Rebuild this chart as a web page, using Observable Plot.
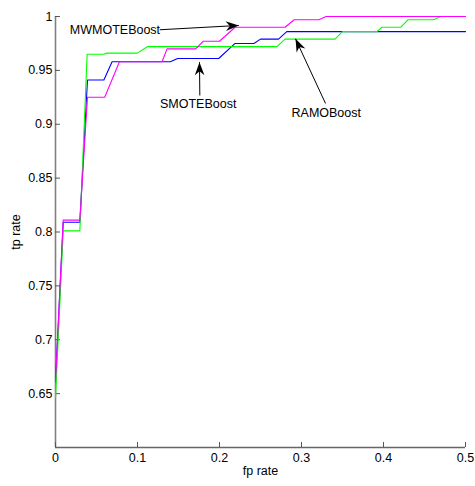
<!DOCTYPE html>
<html><head><meta charset="utf-8">
<script src="https://cdn.jsdelivr.net/npm/d3@7"></script>
<script src="https://cdn.jsdelivr.net/npm/@observablehq/plot@0.6"></script>
<style>body{margin:0;background:#fff}</style>
</head><body><div id="chart"></div>
<script>
// SMOTEBoost (blue)
const smoteFpr = [0, 0.0094, 0.0297, 0.039, 0.059, 0.069, 0.140, 0.149, 0.199, 0.219, 0.242, 0.250, 0.272, 0.282, 0.5];
const smoteTpr = [0.661, 0.809, 0.809, 0.941, 0.941, 0.958, 0.958, 0.961, 0.961, 0.975, 0.975, 0.979, 0.979, 0.986, 0.986];
// RAMOBoost (green)
const ramoFpr = [0, 0.0094, 0.0297, 0.0386, 0.059, 0.0625, 0.0996, 0.112, 0.270, 0.280, 0.341, 0.350, 0.392, 0.398, 0.421, 0.430, 0.461, 0.470, 0.5];
const ramoTpr = [0.646, 0.801, 0.801, 0.965, 0.965, 0.966, 0.966, 0.972, 0.972, 0.979, 0.979, 0.986, 0.986, 0.990, 0.990, 0.997, 0.997, 1.0, 1.0];
// MWMOTEBoost (magenta)
const mwFpr = [0, 0.0094, 0.0297, 0.039, 0.060, 0.078, 0.130, 0.136, 0.171, 0.180, 0.200, 0.219, 0.280, 0.291, 0.321, 0.330, 0.5];
const mwTpr = [0.661, 0.811, 0.811, 0.925, 0.925, 0.958, 0.958, 0.970, 0.970, 0.977, 0.977, 0.990, 0.990, 0.997, 0.997, 1.0, 1.0];

const seriesNames = ["SMOTEBoost", "RAMOBoost", "MWMOTEBoost"];
const seriesColors = ["#0000ff", "#00ff00", "#ff00ff"];

const xTicks = [0, 0.1, 0.2, 0.3, 0.4, 0.5];
const yTicks = [0.65, 0.7, 0.75, 0.8, 0.85, 0.9, 0.95, 1];

// annotations (text centre, arrow tail, arrow tip)
const annLabels = ["MWMOTEBoost", "SMOTEBoost", "RAMOBoost"];
const annTextX = [0.0725, 0.174, 0.3302];
const annTextY = [0.9878, 0.9186, 0.910];
const annFromX = [0.1272, 0.176, 0.3293];
const annFromY = [0.9877, 0.9267, 0.9193];
const annToX = [0.2235, 0.1756, 0.2927];
const annToY = [0.9917, 0.9576, 0.9793];

const seriesData = [
  [smoteFpr, smoteTpr], [ramoFpr, ramoTpr], [mwFpr, mwTpr]
].map(([xs, ys], k) => xs.map((x, i) => ({x, y: ys[i], s: seriesNames[k]})));

const ann = annLabels.map((label, i) => ({
  label, tx: annTextX[i], ty: annTextY[i],
  x1: annFromX[i], y1: annFromY[i], x2: annToX[i], y2: annToY[i]
}));

const headSymbol = {
  draw(ctx) {
    ctx.moveTo(0, 0);
    ctx.lineTo(-13, -4.8);
    ctx.lineTo(-9, 0);
    ctx.lineTo(-13, 4.8);
    ctx.closePath();
  }
};

const font = "'Liberation Sans', Arial, sans-serif";

function build(angles) {
  return Plot.plot({
    width: 475,
    height: 486,
    marginLeft: 55,
    marginRight: 10,
    marginTop: 16,
    marginBottom: 39,
    style: {fontFamily: font, fontSize: "12px", background: "white", color: "black", overflow: "visible"},
    x: {domain: [0, 0.5]},
    y: {domain: [0.6, 1]},
    marks: [
      Plot.ruleX([0], {stroke: "#808080", strokeWidth: 1.6}),
      Plot.ruleY([0.6], {stroke: "#666", strokeWidth: 1.6}),
      Plot.axisX(xTicks, {tickSize: -5, tickFormat: () => "", stroke: "#555"}),
      Plot.axisY(yTicks, {tickSize: -5, tickFormat: () => "", stroke: "#555"}),
      Plot.axisX(xTicks, {tickSize: 0, tickPadding: 6, tickFormat: d => String(d), fontSize: 12.5,
        label: "fp rate", labelAnchor: "center", labelArrow: "none", labelOffset: 27}),
      Plot.axisY(yTicks, {tickSize: 0, tickPadding: 3, tickFormat: d => String(d), fontSize: 12.5,
        label: "tp rate", labelAnchor: "center", labelArrow: "none", labelOffset: 44}),
      ...seriesData.map((d, k) => Plot.line(d, {x: "x", y: "y", stroke: seriesColors[k], strokeWidth: 1.1})),
      Plot.link(ann, {x1: "x1", y1: "y1", x2: "x2", y2: "y2", stroke: "black", strokeWidth: 1}),
      Plot.dot(ann, {x: "x2", y: "y2", symbol: headSymbol, r: 5, fill: "black", stroke: "none",
        rotate: (d, i) => angles[i]}),
      Plot.text(ann, {x: "tx", y: "ty", text: "label", textAnchor: "middle", lineAnchor: "middle",
        fontSize: 12.5, fill: "black"})
    ]
  });
}

let plot = build([0, 0, 0]);
const sx = plot.scale("x"), sy = plot.scale("y");
const angles = ann.map(d => Math.atan2(sy.apply(d.y2) - sy.apply(d.y1), sx.apply(d.x2) - sx.apply(d.x1)) * 180 / Math.PI);
plot = build(angles);
document.getElementById("chart").append(plot);
</script>
</body></html>
